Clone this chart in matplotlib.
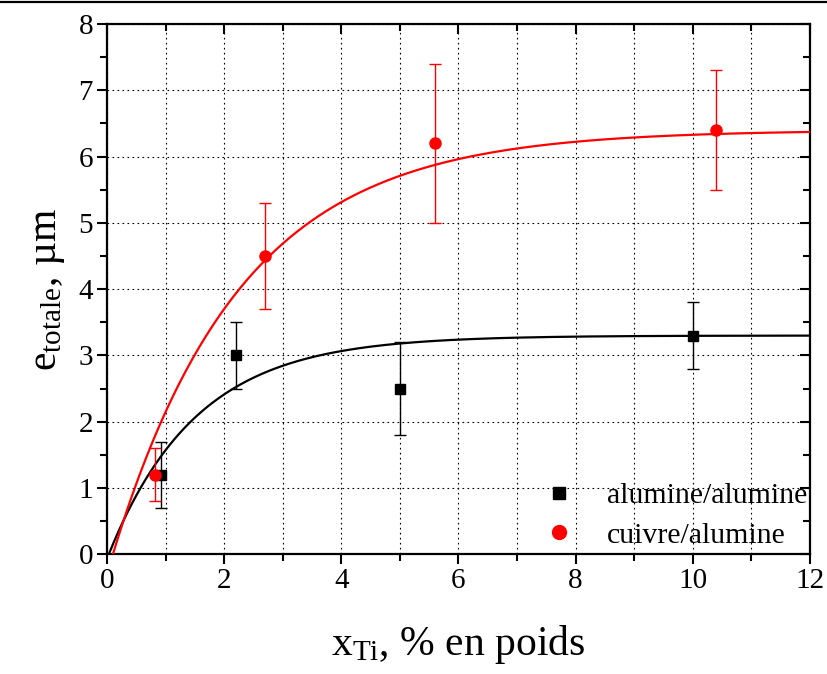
import numpy as np
import matplotlib
matplotlib.use("Agg")
import matplotlib.pyplot as plt
from matplotlib.lines import Line2D
from matplotlib.ticker import MultipleLocator

plt.rcParams['font.family'] = ['Liberation Serif', 'DejaVu Serif']
plt.rcParams['mathtext.fontset'] = 'custom'
plt.rcParams['mathtext.rm'] = 'Liberation Serif'
plt.rcParams['mathtext.it'] = 'Liberation Serif:italic'

# alumine/alumine (black squares)
x_al = [0.93, 2.2, 5.0, 10.0]
y_al = [1.2, 3.0, 2.5, 3.3]
err_al = [0.5, 0.5, 0.7, 0.5]

# cuivre/alumine (red circles)
x_cu = [0.82, 2.7, 5.6, 10.4]
y_cu = [1.2, 4.5, 6.2, 6.4]
err_cu = [0.4, 0.8, 1.2, 0.9]

# exponential fit parameters: A, x0, t
fit_al = (3.3, 0.03, 1.5)
fit_cu = (6.4, 0.10, 2.2)

labels = ["alumine/alumine", "cuivre/alumine"]


def fit_curve(p, xs):
    A, x0, t = p
    return A * (1 - np.exp(-(xs - x0) / t))


fig = plt.figure(figsize=(8.27, 6.74), dpi=100)
ax = fig.add_axes([0.1294, 0.1776, 0.85, 0.7868])

xs_al = np.linspace(fit_al[1], 12, 300)
xs_cu = np.linspace(fit_cu[1], 12, 300)
ax.plot(xs_al, fit_curve(fit_al, xs_al), color='black', lw=1.6, zorder=3)
ax.plot(xs_cu, fit_curve(fit_cu, xs_cu), color='red', lw=1.6, zorder=3)

ax.errorbar(x_al, y_al, yerr=err_al, fmt='s', color='black', ms=7.5,
            ecolor='black', elinewidth=1, capsize=4.5, capthick=1, zorder=4)
ax.errorbar(x_cu, y_cu, yerr=err_cu, fmt='o', color='red', ms=8,
            ecolor='red', elinewidth=1, capsize=4.5, capthick=1, zorder=5)

ax.set_xlim(0, 12)
ax.set_ylim(0, 8)
ax.xaxis.set_major_locator(MultipleLocator(2))
ax.xaxis.set_minor_locator(MultipleLocator(1))
ax.yaxis.set_major_locator(MultipleLocator(1))
ax.yaxis.set_minor_locator(MultipleLocator(0.5))

ax.grid(which='major', axis='y', linestyle=(0, (1.5, 3)), color='black', lw=0.8)
ax.grid(which='both', axis='x', linestyle=(0, (1.5, 3)), color='black', lw=0.8)

for s in ax.spines.values():
    s.set_linewidth(1.6)

ax.tick_params(which='major', direction='out', length=7, width=1.5,
               labelsize=21, pad=3)
ax.tick_params(which='minor', direction='out', length=5, width=1.5)
ax.tick_params(which='both', top=True, right=True)
# top and right ticks point inward
for t in ax.xaxis.get_major_ticks() + ax.xaxis.get_minor_ticks():
    t.tick2line.set_marker(3)
for t in ax.yaxis.get_major_ticks() + ax.yaxis.get_minor_ticks():
    t.tick2line.set_marker(0)

ax.set_xlabel(r'$\mathregular{x_{Ti}}$, % en poids', fontsize=30, labelpad=21)
ax.set_ylabel(r'$\mathregular{e_{totale}}$, µm', fontsize=30, labelpad=8)

handles = [Line2D([], [], marker='s', ls='none', color='black', ms=9),
           Line2D([], [], marker='o', ls='none', color='red', ms=10)]
ax.legend(handles, labels, loc='lower right', frameon=False, fontsize=21.5,
          handletextpad=1.1, borderaxespad=0.0, labelspacing=0.43,
          handlelength=1.0, bbox_to_anchor=(1.013, -0.012))

fig.add_artist(Line2D([0, 1], [1 - 2 / 674, 1 - 2 / 674], color='black',
                      lw=1.6, transform=fig.transFigure))

fig.savefig('out.png', dpi=100)
